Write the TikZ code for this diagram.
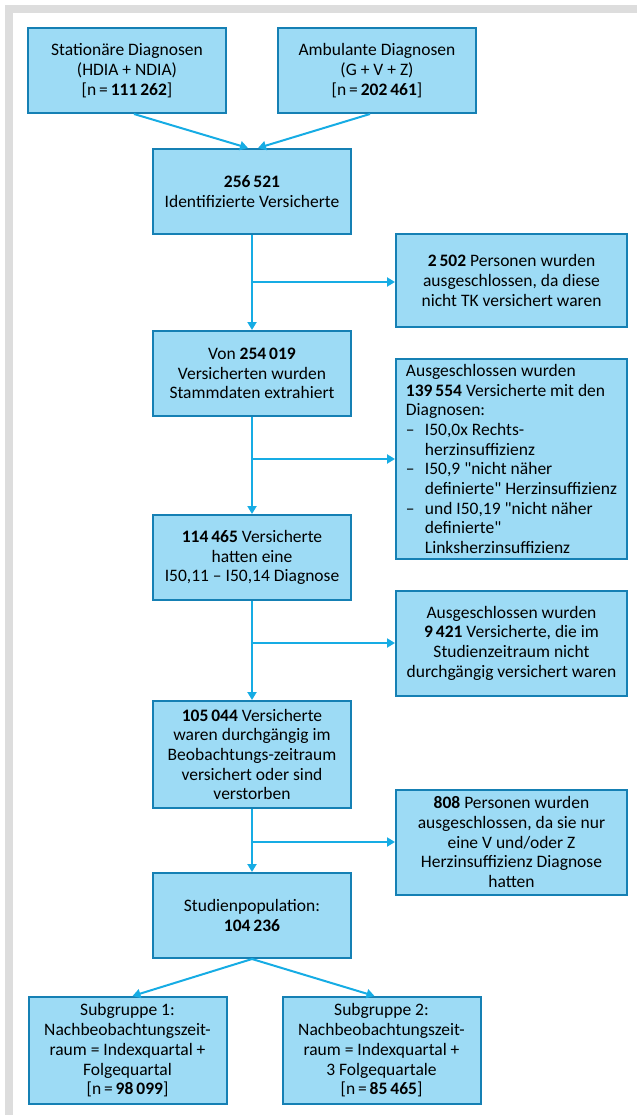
\documentclass[tikz,border=0pt]{standalone}
\usepackage{fontspec}
\setmainfont{Carlito}[Ligatures=TeXOff]
\usepackage{xcolor}
\usepackage{tikz}
\usetikzlibrary{arrows.meta,positioning,calc}

\definecolor{boxfill}{RGB}{157,219,245}
\definecolor{boxline}{RGB}{21,128,180}
\definecolor{flowcol}{RGB}{22,172,228}
\definecolor{framegray}{RGB}{221,221,221}

\begin{document}
\begin{tikzpicture}[
   x=1pt,y=1pt,
   every node/.style={font=\fontsize{17.5}{19.7}\selectfont},
   stagebox/.style={draw=boxline,line width=2pt,fill=boxfill,minimum width=198pt,
                    minimum height=85pt,inner sep=2pt,align=center},
   tallbox/.style={stagebox,minimum height=107pt},
   exclbox/.style={draw=boxline,line width=2pt,fill=boxfill,minimum width=231pt,
                   inner sep=2pt,align=center},
   flow/.style={draw=flowcol,line width=2pt,-{Triangle[length=8pt,width=9pt]}}
]
\useasboundingbox (0,0) rectangle (637,-1115);

% grey frame
\fill[framegray] (5,-5) rectangle (637,-13);
\fill[framegray] (5,-5) rectangle (13,-1115);

% Sources
\node[stagebox] (stat) at (127,-70.5) {Stationäre Diagnosen\\(HDIA + NDIA)\\{}[n\,=\,\textbf{111\,262}]};
\node[stagebox,right=50pt of stat] (amb) {Ambulante Diagnosen\\(G + V + Z)\\{}[n\,=\,\textbf{202\,461}]};
\coordinate (src) at ($(stat.south)!0.5!(amb.south)$);

% Main column
\node[stagebox,below=34pt of src] (ident) {\textbf{256\,521}\\Identifizierte Versicherte};
\node[stagebox,below=95pt of ident] (stamm) {Von \textbf{254\,019}\\Versicherten wurden\\Stammdaten extrahiert};
\node[stagebox,below=97pt of stamm] (diag) {\textbf{114\,465} Versicherte\\hatten eine\\I50,11 – I50,14 Diagnose};
\node[tallbox,below=99pt of diag] (durch) {\textbf{105\,044} Versicherte\\waren durchgängig im\\Beobachtungs-zeitraum\\versichert oder sind\\verstorben};
\node[stagebox,below=63pt of durch] (pop) {Studienpopulation:\\\textbf{104\,236}};

% Subgroups
\node[tallbox,below=37pt of pop,xshift=-124.5pt] (sub1) {Subgruppe 1:\\Nachbeobachtungszeit-\\raum = Indexquartal +\\Folgequartal\\{}[n\,=\,\textbf{98\,099}]};
\node[tallbox,below=37pt of pop,xshift=129.5pt] (sub2) {Subgruppe 2:\\Nachbeobachtungszeit-\\raum = Indexquartal +\\3 Folgequartale\\{}[n\,=\,\textbf{85\,465}]};

% Branch points
\coordinate (br1) at ($(ident.south)+(0,-47)$);
\coordinate (br2) at ($(stamm.south)+(0,-42)$);
\coordinate (br3) at ($(diag.south)+(0,-42)$);
\coordinate (br4) at ($(durch.south)+(0,-33)$);

% Exclusions
\node[exclbox,minimum height=93pt,right=143pt of br1,yshift=1.5pt] (ex1) {\textbf{2\,502} Personen wurden\\ausgeschlossen, da diese\\nicht TK versichert waren};
\node[exclbox,minimum height=200pt,align=left,right=143pt of br2] (ex2) {Ausgeschlossen wurden\\\textbf{139\,554} Versicherte mit den\\Diagnosen:\\
   \makebox[19pt][l]{–}I50,0x Rechts-\\\hspace*{19pt}herzinsuffizienz\\
   \makebox[19pt][l]{–}I50,9 "nicht näher\\\hspace*{19pt}definierte" Herzinsuffizienz\\
   \makebox[19pt][l]{–}und I50,19 "nicht näher\\\hspace*{19pt}definierte"\\\hspace*{19pt}Linksherzinsuffizienz};
\node[exclbox,minimum height=105pt,right=143pt of br3] (ex3) {Ausgeschlossen wurden\\\textbf{9\,421} Versicherte, die im\\Studienzeitraum nicht\\durchgängig versichert waren};
\node[exclbox,minimum height=105pt,right=143pt of br4] (ex4) {\textbf{808} Personen wurden\\ausgeschlossen, da sie nur\\eine V und/oder Z\\Herzinsuffizienz Diagnose\\hatten};

% Connectors
\draw[flow] ($(stat.south)+(7,0)$) -- ($(ident.north)+(-4,0)$);
\draw[flow] ($(amb.south)+(-7,0)$) -- ($(ident.north)+(6,0)$);
\draw[flow] (ident) -- (stamm);
\draw[flow] (stamm) -- (diag);
\draw[flow] (diag) -- (durch);
\draw[flow] (durch) -- (pop);
\draw[flow] (br1) -- (br1 -| ex1.west);
\draw[flow] (br2) -- (br2 -| ex2.west);
\draw[flow] (br3) -- (br3 -| ex3.west);
\draw[flow] (br4) -- (br4 -| ex4.west);
\draw[flow] (pop.south) -- ($(sub1.north)+(5,0)$);
\draw[flow] (pop.south) -- ($(sub2.north)+(-7,0)$);

\end{tikzpicture}
\end{document}
